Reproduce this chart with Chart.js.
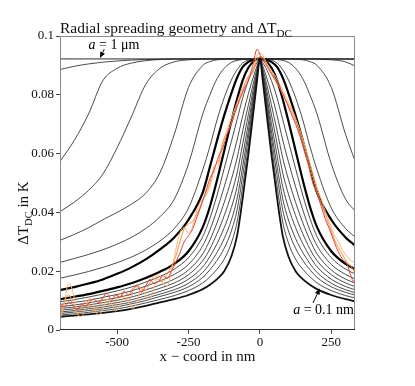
<!DOCTYPE html>
<html><head><meta charset="utf-8">
<script src="https://cdn.jsdelivr.net/npm/chart.js@4.4.1/dist/chart.umd.min.js"></script>
<style>html,body{margin:0;padding:0;background:#fff;}#wrap{width:415px;height:386px;}</style>
</head><body><div id="wrap"><canvas id="c" width="415" height="386"></canvas></div>
<script>
// ---- data (x in nm, y = Delta T_DC in K) ----
const xGrid = [-700,-650,-600,-550,-500,-450,-400,-350,-300,-250,-200,-175,-150,-125,-100,-80,-60,-40,-20,-10,0,10,20,40,60,80,100,125,150,175,200,250,300,333];

const a1um = [0.0922,0.0922,0.0922,0.0922,0.0922,0.0922,0.0922,0.0922,0.0922,0.0922,0.0922,0.0922,0.0922,0.0922,0.0922,0.0922,0.0922,0.0922,0.0922,0.0922,0.0922,0.0922,0.0922,0.0922,0.0922,0.0922,0.0922,0.0922,0.0922,0.0922,0.0922,0.0922,0.0922,0.0922];
const curve2 = [0.0886,0.0897,0.0905,0.0911,0.0915,0.0918,0.0920,0.0921,0.0922,0.0922,0.0922,0.0922,0.0922,0.0922,0.0922,0.0922,0.0922,0.0922,0.0922,0.0922,0.0922,0.0922,0.0922,0.0922,0.0922,0.0922,0.0922,0.0922,0.0922,0.0922,0.0922,0.0922,0.0922,0.0922];
const curve3 = [0.0573,0.0645,0.0735,0.0848,0.0890,0.0908,0.0916,0.0920,0.0921,0.0922,0.0922,0.0922,0.0922,0.0922,0.0922,0.0922,0.0922,0.0922,0.0922,0.0922,0.0922,0.0922,0.0922,0.0922,0.0922,0.0922,0.0922,0.0922,0.0922,0.0922,0.0922,0.0922,0.0921,0.0921];
const curve4 = [0.0403,0.0435,0.0475,0.0530,0.0620,0.0725,0.0835,0.0890,0.0912,0.0919,0.0921,0.0922,0.0922,0.0922,0.0922,0.0922,0.0922,0.0922,0.0922,0.0922,0.0922,0.0922,0.0922,0.0922,0.0922,0.0922,0.0922,0.0922,0.0922,0.0922,0.0921,0.0919,0.0912,0.0898];
const curve5 = [0.0305,0.0325,0.0348,0.0375,0.0400,0.0428,0.0465,0.0535,0.0665,0.0825,0.0900,0.0913,0.0919,0.0921,0.0922,0.0922,0.0922,0.0922,0.0922,0.0922,0.0922,0.0922,0.0922,0.0922,0.0922,0.0922,0.0922,0.0921,0.0919,0.0913,0.0900,0.0825,0.0665,0.0575];
const curve6 = [0.0230,0.0243,0.0257,0.0273,0.0292,0.0315,0.0345,0.0385,0.0445,0.0565,0.0735,0.0800,0.0855,0.0890,0.0910,0.0917,0.0920,0.0922,0.0922,0.0922,0.0923,0.0922,0.0922,0.0922,0.0920,0.0917,0.0910,0.0890,0.0855,0.0800,0.0735,0.0565,0.0445,0.0405];
const curve7 = [0.0176,0.0187,0.0199,0.0213,0.0229,0.0248,0.0272,0.0303,0.0345,0.0415,0.0545,0.0625,0.0715,0.0790,0.0850,0.0885,0.0908,0.0918,0.0922,0.0923,0.0923,0.0923,0.0922,0.0918,0.0908,0.0885,0.0850,0.0790,0.0715,0.0625,0.0545,0.0415,0.0345,0.0317];
const thickA = [0.0136,0.0146,0.0158,0.0172,0.0191,0.0213,0.0240,0.0274,0.0315,0.0375,0.0468,0.0555,0.0645,0.0730,0.0805,0.0858,0.0895,0.0912,0.0920,0.0922,0.0923,0.0922,0.0920,0.0912,0.0895,0.0858,0.0805,0.0730,0.0645,0.0555,0.0468,0.0375,0.0315,0.0288];
const thickB = [0.0105,0.0113,0.0122,0.0133,0.0145,0.0159,0.0177,0.0198,0.0225,0.0268,0.0350,0.0420,0.0510,0.0610,0.0710,0.0785,0.0850,0.0893,0.0915,0.0920,0.0923,0.0920,0.0915,0.0893,0.0850,0.0785,0.0710,0.0610,0.0510,0.0420,0.0350,0.0268,0.0225,0.0207];
const thin1 = [0.0096,0.0103,0.0112,0.0122,0.0133,0.0146,0.0163,0.0182,0.0207,0.0246,0.0318,0.0380,0.0459,0.0549,0.0641,0.0715,0.0790,0.0849,0.0893,0.0909,0.0923,0.0909,0.0893,0.0849,0.0790,0.0715,0.0641,0.0549,0.0459,0.0380,0.0318,0.0246,0.0207,0.0191];
const thin2 = [0.0087,0.0094,0.0101,0.0111,0.0121,0.0133,0.0149,0.0167,0.0189,0.0223,0.0287,0.0340,0.0409,0.0487,0.0572,0.0646,0.0730,0.0805,0.0870,0.0898,0.0923,0.0898,0.0870,0.0805,0.0730,0.0646,0.0572,0.0487,0.0409,0.0340,0.0287,0.0223,0.0189,0.0174];
const thin3 = [0.0079,0.0085,0.0092,0.0101,0.0110,0.0122,0.0136,0.0153,0.0173,0.0204,0.0259,0.0306,0.0365,0.0434,0.0512,0.0585,0.0678,0.0767,0.0851,0.0889,0.0923,0.0889,0.0851,0.0767,0.0678,0.0585,0.0512,0.0434,0.0365,0.0306,0.0259,0.0204,0.0173,0.0160];
const thin4 = [0.0073,0.0078,0.0085,0.0093,0.0101,0.0112,0.0126,0.0142,0.0160,0.0188,0.0236,0.0276,0.0328,0.0389,0.0462,0.0534,0.0634,0.0735,0.0834,0.0881,0.0923,0.0881,0.0834,0.0735,0.0634,0.0534,0.0462,0.0389,0.0328,0.0276,0.0236,0.0188,0.0160,0.0148];
const thin5 = [0.0067,0.0072,0.0078,0.0085,0.0093,0.0103,0.0116,0.0131,0.0148,0.0173,0.0215,0.0250,0.0294,0.0348,0.0416,0.0487,0.0594,0.0705,0.0819,0.0874,0.0923,0.0874,0.0819,0.0705,0.0594,0.0487,0.0416,0.0348,0.0294,0.0250,0.0215,0.0173,0.0148,0.0137];
const thin6 = [0.0061,0.0066,0.0072,0.0078,0.0086,0.0095,0.0108,0.0122,0.0137,0.0159,0.0196,0.0226,0.0264,0.0311,0.0374,0.0446,0.0558,0.0679,0.0806,0.0867,0.0923,0.0867,0.0806,0.0679,0.0558,0.0446,0.0374,0.0311,0.0264,0.0226,0.0196,0.0159,0.0137,0.0127];
const thin7 = [0.0056,0.0061,0.0066,0.0072,0.0079,0.0089,0.0100,0.0114,0.0128,0.0147,0.0179,0.0205,0.0237,0.0278,0.0337,0.0408,0.0526,0.0656,0.0794,0.0862,0.0923,0.0862,0.0794,0.0656,0.0526,0.0408,0.0337,0.0278,0.0237,0.0205,0.0179,0.0147,0.0128,0.0119];
const thin8 = [0.0051,0.0055,0.0060,0.0066,0.0072,0.0081,0.0092,0.0104,0.0117,0.0134,0.0160,0.0181,0.0207,0.0241,0.0296,0.0367,0.0490,0.0629,0.0780,0.0855,0.0923,0.0855,0.0780,0.0629,0.0490,0.0367,0.0296,0.0241,0.0207,0.0181,0.0160,0.0134,0.0117,0.0109];
const a01nm = [0.0045,0.0049,0.0053,0.0058,0.0064,0.0072,0.0082,0.0094,0.0105,0.0119,0.0139,0.0154,0.0173,0.0200,0.0250,0.0320,0.0450,0.0600,0.0765,0.0848,0.0923,0.0848,0.0765,0.0600,0.0450,0.0320,0.0250,0.0200,0.0173,0.0154,0.0139,0.0119,0.0105,0.0098];

// measured profiles
const expX = [-700,-685,-670,-655,-640,-625,-610,-595,-580,-565,-550,-535,-520,-505,-490,-475,-460,-445,-430,-415,-400,-385,-370,-355,-340,-325,-310,-295,-280,-265,-250,-235,-220,-205,-190,-175,-160,-145,-130,-115,-100,-85,-70,-55,-40,-25,-10,5,20,35,50,65,80,95,110,125,140,155,170,185,200,215,230,245,260,275,290,305,320,335];
const expRed = [0.0090,0.0078,0.0095,0.0085,0.0068,0.0088,0.0080,0.0098,0.0105,0.0092,0.0110,0.0125,0.0100,0.0118,0.0112,0.0132,0.0118,0.0140,0.0150,0.0128,0.0150,0.0172,0.0158,0.0165,0.0185,0.0175,0.0200,0.0230,0.0262,0.0300,0.0320,0.0345,0.0385,0.0425,0.0470,0.0515,0.0545,0.0590,0.0620,0.0665,0.0700,0.0745,0.0785,0.0820,0.0850,0.0900,0.0955,0.0925,0.0905,0.0880,0.0855,0.0830,0.0805,0.0770,0.0735,0.0700,0.0660,0.0610,0.0560,0.0500,0.0465,0.0420,0.0375,0.0340,0.0300,0.0265,0.0240,0.0225,0.0180,0.0150];
const expOrange = [0.0060,0.0095,0.0120,0.0090,0.0055,0.0070,0.0100,0.0085,0.0060,0.0080,0.0105,0.0095,0.0080,0.0100,0.0125,0.0110,0.0100,0.0130,0.0155,0.0140,0.0135,0.0160,0.0185,0.0170,0.0165,0.0190,0.0215,0.0250,0.0300,0.0345,0.0360,0.0370,0.0395,0.0430,0.0465,0.0500,0.0555,0.0575,0.0640,0.0670,0.0705,0.0750,0.0790,0.0830,0.0860,0.0875,0.0920,0.0930,0.0910,0.0885,0.0860,0.0835,0.0800,0.0775,0.0745,0.0710,0.0670,0.0625,0.0570,0.0520,0.0470,0.0430,0.0390,0.0350,0.0310,0.0280,0.0255,0.0230,0.0215,0.0190];
const expLight = [0.0035,0.0090,0.0160,0.0130,0.0060,0.0045,0.0080,0.0110,0.0075,0.0050,0.0070,0.0105,0.0090,0.0065,0.0085,0.0115,0.0095,0.0070,0.0100,0.0135,0.0120,0.0105,0.0150,0.0190,0.0160,0.0150,0.0200,0.0270,0.0330,0.0350,0.0330,0.0355,0.0410,0.0440,0.0455,0.0490,0.0540,0.0560,0.0630,0.0680,0.0720,0.0760,0.0800,0.0835,0.0865,0.0885,0.0935,0.0940,0.0915,0.0890,0.0870,0.0845,0.0815,0.0785,0.0755,0.0720,0.0680,0.0635,0.0585,0.0535,0.0485,0.0445,0.0400,0.0365,0.0325,0.0300,0.0270,0.0250,0.0235,0.0230];

const xTicks = [-500,-250,0,250];
const yTicks = [0,0.02,0.04,0.06,0.08,0.1];

// ---- chart ----
const SERIF = "'Liberation Serif', 'DejaVu Serif', serif";
function ds(xs, ys, width, color, order) {
  return {
    data: xs.map((x, i) => ({x: x, y: ys[i]})),
    borderColor: color, borderWidth: width, pointRadius: 0,
    cubicInterpolationMode: 'monotone', fill: false, order: order
  };
}
const thinCol = '#2b2b2b';
const datasets = [
  ds(xGrid, a1um, 1.0, thinCol, 5),
  ds(xGrid, curve2, 0.85, thinCol, 5),
  ds(xGrid, curve3, 0.85, thinCol, 5),
  ds(xGrid, curve4, 0.85, thinCol, 5),
  ds(xGrid, curve5, 0.85, thinCol, 5),
  ds(xGrid, curve6, 0.85, thinCol, 5),
  ds(xGrid, curve7, 0.85, thinCol, 5),
  ds(xGrid, thin1, 0.85, thinCol, 5),
  ds(xGrid, thin2, 0.85, thinCol, 5),
  ds(xGrid, thin3, 0.85, thinCol, 5),
  ds(xGrid, thin4, 0.85, thinCol, 5),
  ds(xGrid, thin5, 0.85, thinCol, 5),
  ds(xGrid, thin6, 0.85, thinCol, 5),
  ds(xGrid, thin7, 0.85, thinCol, 5),
  ds(xGrid, thin8, 0.85, thinCol, 5),
  ds(xGrid, a01nm, 1.8, '#111', 4),
  ds(xGrid, thickA, 2.2, '#000', 3),
  ds(xGrid, thickB, 2.2, '#000', 3),
  ds(expX, expLight, 1.0, '#f9b574', 2),
  ds(expX, expOrange, 1.0, '#f29440', 1),
  ds(expX, expRed, 1.0, '#e3403a', 0)
];

function drawParts(ctx, x, y, parts) {
  for (const p of parts) {
    ctx.font = p.font;
    ctx.fillText(p.t, x, y + (p.dy || 0));
    x += ctx.measureText(p.t).width;
  }
  return x;
}
function partsWidth(ctx, parts) {
  let w = 0;
  for (const p of parts) { ctx.font = p.font; w += ctx.measureText(p.t).width; }
  return w;
}
function arrow(ctx, x0, y0, x1, y1) {
  const ang = Math.atan2(y1 - y0, x1 - x0), L = 6, W = 2.6;
  ctx.beginPath(); ctx.moveTo(x0, y0);
  ctx.lineTo(x1 - L * Math.cos(ang), y1 - L * Math.sin(ang)); ctx.stroke();
  ctx.beginPath(); ctx.moveTo(x1, y1);
  ctx.lineTo(x1 - L * Math.cos(ang) + W * Math.sin(ang), y1 - L * Math.sin(ang) - W * Math.cos(ang));
  ctx.lineTo(x1 - L * Math.cos(ang) - W * Math.sin(ang), y1 - L * Math.sin(ang) + W * Math.cos(ang));
  ctx.closePath(); ctx.fill();
}

const deco = {
  id: 'deco',
  afterDraw(chart) {
    const {ctx, chartArea: a, scales} = chart;
    const sx = scales.x, sy = scales.y;
    ctx.save();
    ctx.lineWidth = 1;
    ctx.strokeStyle = '#8a8a8a';
    ctx.beginPath();
    ctx.moveTo(a.left + 0.5, a.bottom); ctx.lineTo(a.left + 0.5, a.top + 0.5);
    ctx.lineTo(a.right - 0.5, a.top + 0.5); ctx.lineTo(a.right - 0.5, a.bottom);
    ctx.stroke();
    ctx.strokeStyle = '#2a2a2a';
    ctx.beginPath(); ctx.moveTo(a.left, a.bottom - 0.5); ctx.lineTo(a.right, a.bottom - 0.5); ctx.stroke();

    ctx.fillStyle = '#111';
    ctx.textBaseline = 'alphabetic';
    ctx.textAlign = 'left';
    drawParts(ctx, a.left, 33, [
      {t: 'Radial spreading geometry and \u0394T', font: '15.5px ' + SERIF},
      {t: 'DC', font: '11px ' + SERIF, dy: 3.5}
    ]);
    const xt = [{t: 'x \u2212 coord in nm', font: '15px ' + SERIF}];
    const xw = partsWidth(ctx, xt);
    drawParts(ctx, (a.left + a.right) / 2 - xw / 2, 361, xt);
    const yt = [
      {t: '\u0394T', font: '15px ' + SERIF},
      {t: 'DC', font: '10.5px ' + SERIF, dy: 3.5},
      {t: ' in K', font: '15px ' + SERIF}
    ];
    const yw = partsWidth(ctx, yt);
    ctx.save();
    ctx.translate(28, 213 + yw / 2);
    ctx.rotate(-Math.PI / 2);
    drawParts(ctx, 0, 0, yt);
    ctx.restore();

    ctx.strokeStyle = '#000'; ctx.fillStyle = '#000'; ctx.lineWidth = 1;
    const t1x = sx.getPixelForValue(-600), t1y = sy.getPixelForValue(0.0955);
    drawParts(ctx, t1x, t1y, [
      {t: 'a', font: 'italic 14px ' + SERIF},
      {t: ' = 1 \u03bcm', font: '14px ' + SERIF}
    ]);
    arrow(ctx, sx.getPixelForValue(-545), sy.getPixelForValue(0.0955),
               sx.getPixelForValue(-560), sy.getPixelForValue(0.0925));
    const t2 = [
      {t: 'a', font: 'italic 14px ' + SERIF},
      {t: ' = 0.1 nm', font: '14px ' + SERIF}
    ];
    const w2 = partsWidth(ctx, t2);
    drawParts(ctx, a.right - 1 - w2, sy.getPixelForValue(0.0055), t2);
    arrow(ctx, sx.getPixelForValue(186), sy.getPixelForValue(0.0092),
               sx.getPixelForValue(210), sy.getPixelForValue(0.0141));
    ctx.restore();
  }
};

new Chart(document.getElementById('c'), {
  type: 'line',
  data: {datasets: datasets},
  options: {
    responsive: false, animation: false, devicePixelRatio: 1,
    layout: {padding: {left: 0, right: 60, top: 36, bottom: 0}},
    plugins: {legend: {display: false}, tooltip: {enabled: false}, title: {display: false}},
    scales: {
      x: {
        type: 'linear', min: -700, max: 333,
        afterBuildTicks: (s) => { s.ticks = xTicks.map(v => ({value: v})); },
        afterFit: (s) => { s.height = 56; },
        ticks: {color: '#111', font: {family: SERIF, size: 13}, padding: 1, maxRotation: 0,
                callback: (v) => String(v)},
        grid: {display: true, drawOnChartArea: false, drawTicks: true, tickLength: 4, color: '#444'},
        border: {display: false}
      },
      y: {
        type: 'linear', min: 0, max: 0.1,
        afterBuildTicks: (s) => { s.ticks = yTicks.map(v => ({value: v})); },
        afterFit: (s) => { s.width = 60; },
        ticks: {color: '#111', font: {family: SERIF, size: 13}, padding: 2,
                callback: (v) => String(Math.round(v * 100) / 100)},
        grid: {display: true, drawOnChartArea: false, drawTicks: true, tickLength: 4, color: '#444'},
        border: {display: false}
      }
    }
  },
  plugins: [deco]
});
</script>
</body></html>
